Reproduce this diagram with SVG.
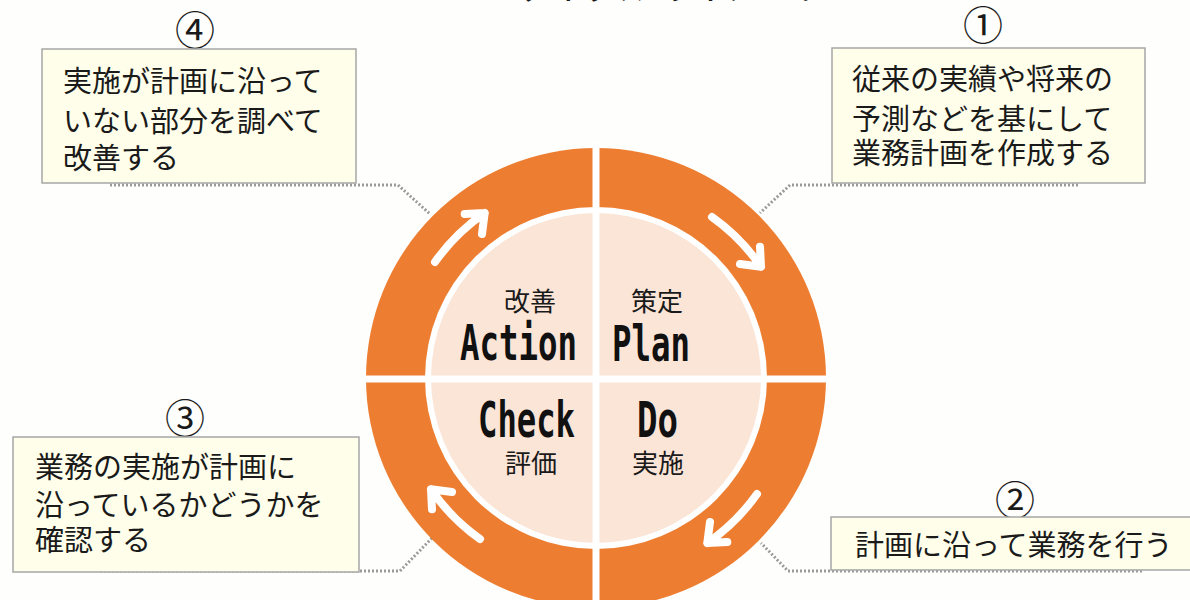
<svg xmlns="http://www.w3.org/2000/svg" xmlns:xlink="http://www.w3.org/1999/xlink" width="1190" height="600" viewBox="0 0 1190 600">
<style>
.jp{font-family:"Noto Sans CJK JP","Noto Sans",sans-serif;fill:#1a1a1a;}
.box{fill:#FEFEEA;stroke:#A6A6A6;stroke-width:1.5;}
.num{font-family:"Noto Sans CJK JP","Noto Sans",sans-serif;font-size:40px;fill:#1a1a1a;text-anchor:middle;}
.bt{font-size:29px;}
.ql{font-size:26px;text-anchor:middle;}
.en{font-family:"DejaVu Sans Mono","Liberation Mono",monospace;font-weight:bold;font-size:50px;fill:#111;}
.conn{fill:none;stroke:#9A9A9A;stroke-width:3;stroke-dasharray:2 2;}
.arr{fill:none;stroke:#fff;stroke-width:8;stroke-linecap:round;stroke-linejoin:round;}
</style>
<defs>
<path id="arrow" class="arr" d="M712 217 A199 199 0 0 1 761 266.7 M760 246.7 L761 266.7 L740 264"/>
</defs>
<rect width="1190" height="600" fill="#FEFEFC"/>
<text class="jp" x="627" y="0" font-size="36" text-anchor="middle">PDCAサイクルのイメージ</text>

<g id="connectors">
<path class="conn" d="M110 185 L398 185 L430 214"/>
<path class="conn" d="M1078 185 L790 185 L760 213"/>
<path class="conn" d="M100 571 L400 571 L432 538"/>
<path class="conn" d="M1142 571 L788 571 L761 543"/>
</g>

<g id="cycle">
<circle cx="596" cy="378" r="230" fill="#ED7D31"/>
<circle cx="596" cy="378" r="171" fill="#FFFFFF"/>
<circle cx="596" cy="378" r="165" fill="#FBE5D7"/>
<line x1="596" y1="140" x2="596" y2="600" stroke="#fff" stroke-width="7"/>
<line x1="360" y1="379" x2="832" y2="379" stroke="#fff" stroke-width="7"/>
<use xlink:href="#arrow"/>
<use xlink:href="#arrow" transform="rotate(90 596 378)"/>
<use xlink:href="#arrow" transform="rotate(180 596 378)"/>
<use xlink:href="#arrow" transform="rotate(270 596 378)"/>
</g>

<g id="plan">
<text class="jp ql" x="657" y="311">策定</text>
<text class="en" x="612" y="361" textLength="78" lengthAdjust="spacingAndGlyphs">Plan</text>
</g>
<g id="do">
<text class="en" x="637" y="437" textLength="41" lengthAdjust="spacingAndGlyphs">Do</text>
<text class="jp ql" x="658" y="473">実施</text>
</g>
<g id="check">
<text class="en" x="478" y="437" textLength="97" lengthAdjust="spacingAndGlyphs">Check</text>
<text class="jp ql" x="531" y="473">評価</text>
</g>
<g id="action">
<text class="jp ql" x="530" y="311">改善</text>
<text class="en" x="460" y="360" textLength="117" lengthAdjust="spacingAndGlyphs">Action</text>
</g>

<g id="note1">
<text class="num" x="983" y="40">①</text>
<rect class="box" x="832" y="48" width="313" height="135"/>
<text class="jp bt" x="852" y="90">従来の実績や将来の</text>
<text class="jp bt" x="852" y="130">予測などを基にして</text>
<text class="jp bt" x="852" y="164">業務計画を作成する</text>
</g>
<g id="note2">
<text class="num" x="1015" y="515">②</text>
<rect class="box" x="831" y="517" width="365" height="53"/>
<text class="jp bt" x="855" y="556">計画に沿って業務を行う</text>
</g>
<g id="note3">
<text class="num" x="185" y="433">③</text>
<rect class="box" x="13" y="437" width="346" height="135"/>
<text class="jp bt" x="35" y="478">業務の実施が計画に</text>
<text class="jp bt" x="35" y="516">沿っているかどうかを</text>
<text class="jp bt" x="35" y="551">確認する</text>
</g>
<g id="note4">
<text class="num" x="195" y="45">④</text>
<rect class="box" x="42" y="49" width="314" height="134"/>
<text class="jp bt" x="63" y="92">実施が計画に沿って</text>
<text class="jp bt" x="63" y="132">いない部分を調べて</text>
<text class="jp bt" x="63" y="169">改善する</text>
</g>
</svg>
